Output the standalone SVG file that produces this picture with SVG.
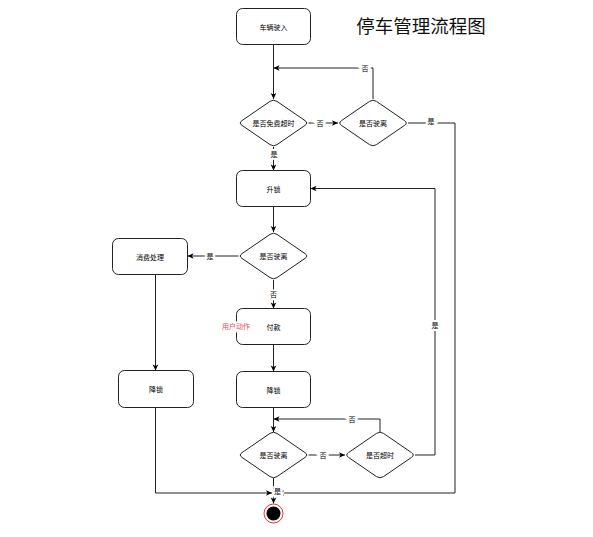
<svg xmlns="http://www.w3.org/2000/svg" width="593" height="537" viewBox="0 0 593 537">
<style>
.n{fill:#fff;stroke:#222;stroke-width:1}
.t{font-family:"Noto Sans CJK SC","Noto Sans",sans-serif;font-size:7px;fill:#000;text-anchor:middle;dominant-baseline:central}
.l{font-family:"Noto Sans CJK SC","Noto Sans",sans-serif;font-size:7px;fill:#000;text-anchor:middle;dominant-baseline:central;paint-order:stroke;stroke:#fff;stroke-width:4px}
.c{fill:none;stroke:#222;stroke-width:1}
</style>
<defs>
<marker id="a" markerUnits="userSpaceOnUse" markerWidth="8" markerHeight="8" viewBox="0 0 8 8" refX="7" refY="4" orient="auto">
<path d="M1,1.2 L7,4 L1,6.8 L2.5,4 Z" fill="#000"/>
</marker>
<path id="dia" d="M-31.5,-2.4 L-3.5,-21.6 Q0,-24 3.5,-21.6 L31.5,-2.4 Q35,0 31.5,2.4 L3.5,21.6 Q0,24 -3.5,21.6 L-31.5,2.4 Q-35,0 -31.5,-2.4 Z"/>
</defs>
<rect width="593" height="537" fill="#fff"/>
<text x="421" y="25" style="font-family:'Noto Sans CJK SC','Noto Sans',sans-serif;font-size:18.5px;fill:#111;text-anchor:middle;dominant-baseline:central">停车管理流程图</text>
<g id="connectors">
<path class="c" d="M273.5,44.5 V99" marker-end="url(#a)"/>
<path class="c" d="M373,99 V68 H273.5" marker-end="url(#a)"/>
<path class="c" d="M308.5,123 H338" marker-end="url(#a)"/>
<path class="c" d="M408,123 H455 V493 H278" marker-end="url(#a)"/>
<path class="c" d="M273.5,147 V170.5" marker-end="url(#a)"/>
<path class="c" d="M273.5,206.5 V232" marker-end="url(#a)"/>
<path class="c" d="M238.5,256 H187.5" marker-end="url(#a)"/>
<path class="c" d="M273.5,280 V308.5" marker-end="url(#a)"/>
<path class="c" d="M273.5,344.5 V371.5" marker-end="url(#a)"/>
<path class="c" d="M155.5,274.5 V370.5" marker-end="url(#a)"/>
<path class="c" d="M273.5,407.5 V432" marker-end="url(#a)"/>
<path class="c" d="M380,432 V419 H273.5" marker-end="url(#a)"/>
<path class="c" d="M308.5,455 H345" marker-end="url(#a)"/>
<path class="c" d="M415,455 H435 V188.5 H310.5" marker-end="url(#a)"/>
<path class="c" d="M155.5,407.5 V493 H272" marker-end="url(#a)"/>
<path class="c" d="M273.5,478 V503.5" marker-end="url(#a)"/>
<text class="l" x="365" y="68">否</text>
<text class="l" x="320" y="123">否</text>
<text class="l" x="431" y="121">是</text>
<text class="l" x="274" y="154">是</text>
<text class="l" x="210" y="256">是</text>
<text class="l" x="273.5" y="294">否</text>
<text class="l" x="352" y="419">否</text>
<text class="l" x="323" y="455">否</text>
<text class="l" x="435" y="325">是</text>
<text class="l" x="277.5" y="491">是</text>
</g>
<g id="n1"><rect class="n" x="236.5" y="8.5" width="74" height="36" rx="6"/><text class="t" x="273.5" y="26.5">车辆驶入</text></g>
<g id="d1"><use href="#dia" class="n" x="273.5" y="123"/><text class="t" x="273.5" y="123">是否免费超时</text></g>
<g id="d2"><use href="#dia" class="n" x="373" y="123"/><text class="t" x="373" y="123">是否驶离</text></g>
<g id="n2"><rect class="n" x="236.5" y="170.5" width="74" height="36" rx="6"/><text class="t" x="273.5" y="188.5">升锁</text></g>
<g id="d3"><use href="#dia" class="n" x="273.5" y="256"/><text class="t" x="273.5" y="256">是否驶离</text></g>
<g id="n3"><rect class="n" x="112.5" y="238.5" width="75" height="36" rx="6"/><text class="t" x="150" y="256.5">消费处理</text></g>
<g id="n4"><rect class="n" x="236.5" y="308.5" width="74" height="36" rx="6"/><text class="t" x="273.5" y="326.5">付款</text><text class="l" x="236" y="326" style="fill:#e0505a">用户动作</text></g>
<g id="n5"><rect class="n" x="118.5" y="370.5" width="75" height="37" rx="6"/><text class="t" x="156" y="389">降锁</text></g>
<g id="n6"><rect class="n" x="236.5" y="371.5" width="74" height="36" rx="6"/><text class="t" x="273.5" y="389.5">降锁</text></g>
<g id="d4"><use href="#dia" class="n" x="273.5" y="455"/><text class="t" x="273.5" y="455">是否驶离</text></g>
<g id="d5"><use href="#dia" class="n" x="380" y="455"/><text class="t" x="380" y="455">是否超时</text></g>
<g id="end"><circle cx="273.5" cy="513.5" r="9.5" fill="#fff" stroke="#e03030" stroke-width="1"/><circle cx="273.5" cy="513.5" r="7" fill="#000"/></g>
</svg>
